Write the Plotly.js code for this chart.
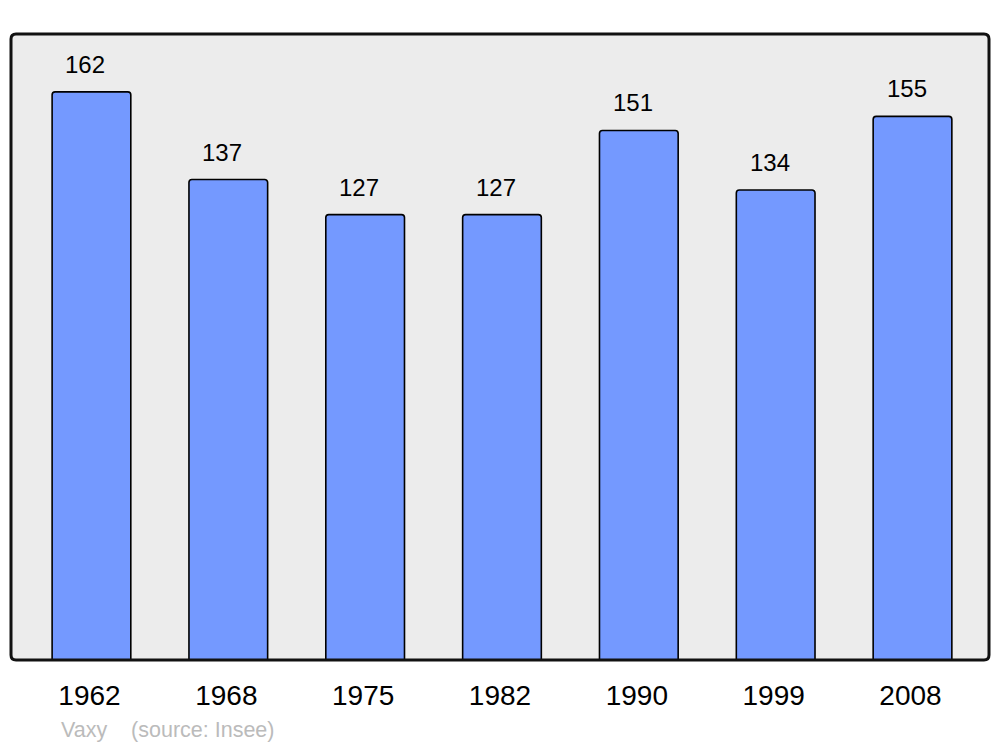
<!DOCTYPE html>
<html><head><meta charset="utf-8">
<script src="https://cdn.plot.ly/plotly-3.0.1.min.js"></script>
<style>html,body{margin:0;padding:0;background:#fff}#c{width:1000px;height:747px}</style>
</head><body><div id="c"></div>
<script>
const years = ["1962","1968","1975","1982","1990","1999","2008"];
const population = [162,137,127,127,151,134,155];
const sourceText = "Vaxy    (source: Insee)";

const W = 978, H = 626;
const rx = 5 / W, ry = 5 / H;
const framePath = `M ${rx} 0 L ${1-rx} 0 Q 1 0 1 ${ry} L 1 ${1-ry} Q 1 1 ${1-rx} 1 L ${rx} 1 Q 0 1 0 ${1-ry} L 0 ${ry} Q 0 0 ${rx} 0 Z`;

const annotations = years.map((y,i)=>({
  x: i, y: population[i], xref:'x', yref:'y',
  text: String(population[i]), showarrow:false,
  yanchor:'bottom', yshift: 12, xshift: -6,
  font:{family:'Liberation Sans, Arial, sans-serif', size:24, color:'#000'}
}));
annotations.push({
  xref:'paper', yref:'paper', x: 48/W, y: 0, yshift: -70, xanchor:'left', yanchor:'middle',
  text: sourceText.replace(/ /g,'&nbsp;'), showarrow:false,
  font:{family:'Liberation Sans, Arial, sans-serif', size:21.5, color:'#bbbbbb'}
});

const trace = {
  type:'bar', x: years, y: population, width: 0.575,
  marker:{color:'#7499ff', line:{color:'#000', width:1.6}, cornerradius:3},
  hoverinfo:'none'
};

const layout = {
  width:1000, height:747,
  margin:{l:11, r:11, t:34, b:87},
  paper_bgcolor:'#ffffff', plot_bgcolor:'#ececec',
  showlegend:false,
  xaxis:{type:'category', range:[-0.588, 6.559], showgrid:false, zeroline:false, showline:false,
    ticks:'outside', ticklen:10, tickcolor:'rgba(0,0,0,0)', ticklabelshift:-2,
    tickfont:{family:'Liberation Sans, Arial, sans-serif', size:28, color:'#000'}, fixedrange:true},
  yaxis:{range:[0,178.5], showgrid:false, zeroline:false, showline:false, showticklabels:false, ticks:'', fixedrange:true},
  shapes:[{type:'path', xref:'paper', yref:'paper', path: framePath, line:{color:'#111', width:3}, fillcolor:'rgba(0,0,0,0)', layer:'above'}],
  annotations: annotations
};
Plotly.newPlot('c',[trace],layout,{displayModeBar:false, staticPlot:true});
</script></body></html>
